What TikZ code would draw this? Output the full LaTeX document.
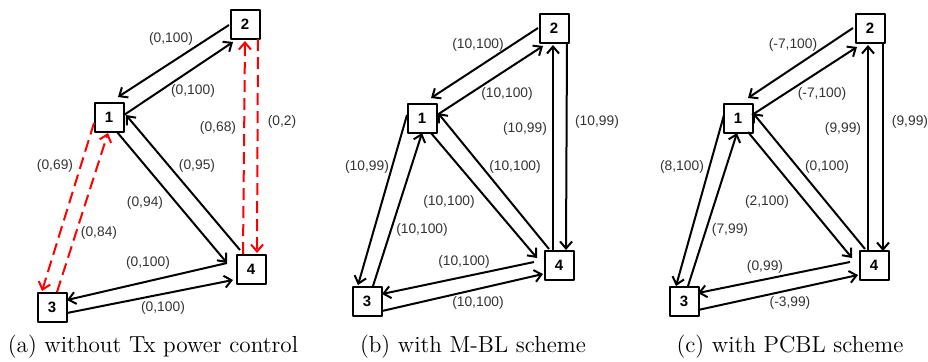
\documentclass[tikz,border=0pt]{standalone}
\usepackage{fontspec}
\setsansfont{Liberation Sans}
\usetikzlibrary{arrows.meta}
\tikzset{
  box/.style={draw, line width=1pt, fill=white, minimum size=14.5pt, inner sep=0pt,
    font=\sffamily\bfseries\fontsize{7.5}{8}\selectfont},
  arr/.style={-{Straight Barb[length=3.5pt,width=6pt]}, line width=1pt},
  redarr/.style={arr, red, dash pattern=on 6pt off 3pt},
  lab/.style={font=\sffamily\fontsize{6.9}{8}\selectfont, text=black!80, inner sep=0pt},
  subcap/.style={font=\fontsize{11.6}{14}\selectfont, inner sep=0pt}
}
\begin{document}
\begin{tikzpicture}[x=0.5pt, y=-0.5pt, line join=round]
\useasboundingbox (0,0) rectangle (928,361);

% (a) no power control
\node[box] (a1) at (109,117) {1};
\node[box] (a2) at (245,24) {2};
\node[box] (a3) at (52,307) {3};
\node[box] (a4) at (251,269) {4};
\draw[arr] ([shift={(-16,1)}]a2.center) -- ([shift={(9,-20)}]a1.center);
\draw[arr] ([shift={(15,-2)}]a1.center) -- ([shift={(-12,18)}]a2.center);
\draw[arr] ([shift={(8,15)}]a1.center) -- ([shift={(-24,-6)}]a4.center);
\draw[arr] ([shift={(-11,-19)}]a4.center) -- ([shift={(17,-2)}]a1.center);
\draw[arr] ([shift={(-24,-6)}]a4.center) -- ([shift={(15,-7)}]a3.center);
\draw[arr] ([shift={(15,6)}]a3.center) -- ([shift={(-18,11)}]a4.center);
\draw[redarr] ([shift={(-15,6)}]a1.center) -- ([shift={(-10,-16)}]a3.center);
\draw[redarr] ([shift={(5,-15)}]a3.center) -- ([shift={(-1,16)}]a1.center);
\draw[redarr] ([shift={(-8,-15)}]a4.center) -- ([shift={(0,17)}]a2.center);
\draw[redarr] ([shift={(13,15)}]a2.center) -- ([shift={(6,-16)}]a4.center);
\node[lab] (la21) at (171,39) {(0,100)};
\node[lab] (la12) at (193,91) {(0,100)};
\node[lab] (la42) at (218,128) {(0,68)};
\node[lab] (la24) at (282,122) {(0,2)};
\node[lab] (la13) at (55,166) {(0,69)};
\node[lab] (la41) at (197,166) {(0,95)};
\node[lab] (la14) at (145,203) {(0,94)};
\node[lab] (la31) at (99,233) {(0,84)};
\node[lab] (la43) at (148,263) {(0,100)};
\node[lab] (la34) at (163,308) {(0,100)};
\node[subcap] (capa) at (153,347) {(a) without Tx power control};

% (b) M-BL
\node[box] (b1) at (422,118) {1};
\node[box] (b2) at (554,28) {2};
\node[box] (b3) at (367,301) {3};
\node[box] (b4) at (559,265) {4};
\draw[arr] ([shift={(-16,0)}]b2.center) -- ([shift={(9,-20)}]b1.center);
\draw[arr] ([shift={(15,-3)}]b1.center) -- ([shift={(-11,18)}]b2.center);
\draw[arr] ([shift={(9,15)}]b1.center) -- ([shift={(-22,-7)}]b4.center);
\draw[arr] ([shift={(-10,-16)}]b4.center) -- ([shift={(16,-5)}]b1.center);
\draw[arr] ([shift={(-25,-3)}]b4.center) -- ([shift={(15,-7)}]b3.center);
\draw[arr] ([shift={(15,10)}]b3.center) -- ([shift={(-16,9)}]b4.center);
\draw[arr] ([shift={(-15,-3)}]b1.center) -- ([shift={(-9,-16)}]b3.center);
\draw[arr] ([shift={(6,-15)}]b3.center) -- ([shift={(0,15)}]b1.center);
\draw[arr] ([shift={(-6,-15)}]b4.center) -- ([shift={(-1,17)}]b2.center);
\draw[arr] ([shift={(13,15)}]b2.center) -- ([shift={(7,-15)}]b4.center);
\node[lab] (lb21) at (478,45) {(10,100)};
\node[lab] (lb12) at (507,94) {(10,100)};
\node[lab] (lb42) at (525,129) {(10,99)};
\node[lab] (lb24) at (597,122) {(10,99)};
\node[lab] (lb13) at (367,167) {(10,99)};
\node[lab] (lb41) at (515,167) {(10,100)};
\node[lab] (lb14) at (449,202) {(10,100)};
\node[lab] (lb31) at (422,230) {(10,100)};
\node[lab] (lb43) at (464,262) {(10,100)};
\node[lab] (lb34) at (478,303) {(10,100)};
\node[subcap] (capb) at (473,347) {(b) with M-BL scheme};

% (c) PCBL
\node[box] (c1) at (738,118) {1};
\node[box] (c2) at (870,28) {2};
\node[box] (c3) at (684,301) {3};
\node[box] (c4) at (874,265) {4};
\draw[arr] ([shift={(-17,0)}]c2.center) -- ([shift={(10,-20)}]c1.center);
\draw[arr] ([shift={(14,-3)}]c1.center) -- ([shift={(-13,19)}]c2.center);
\draw[arr] ([shift={(10,14)}]c1.center) -- ([shift={(-22,-7)}]c4.center);
\draw[arr] ([shift={(-9,-16)}]c4.center) -- ([shift={(15,-5)}]c1.center);
\draw[arr] ([shift={(-24,-3)}]c4.center) -- ([shift={(14,-8)}]c3.center);
\draw[arr] ([shift={(14,9)}]c3.center) -- ([shift={(-16,10)}]c4.center);
\draw[arr] ([shift={(-14,-3)}]c1.center) -- ([shift={(-8,-15)}]c3.center);
\draw[arr] ([shift={(4,-15)}]c3.center) -- ([shift={(-1,15)}]c1.center);
\draw[arr] ([shift={(-6,-15)}]c4.center) -- ([shift={(-2,17)}]c2.center);
\draw[arr] ([shift={(13,15)}]c2.center) -- ([shift={(9,-14)}]c4.center);
\node[lab] (lc21) at (793,45) {(-7,100)};
\node[lab] (lc12) at (822,94) {(-7,100)};
\node[lab] (lc42) at (843,129) {(9,99)};
\node[lab] (lc24) at (910,122) {(9,99)};
\node[lab] (lc13) at (682,167) {(8,100)};
\node[lab] (lc41) at (827,167) {(0,100)};
\node[lab] (lc14) at (767,202) {(2,100)};
\node[lab] (lc31) at (730,230) {(7,99)};
\node[lab] (lc43) at (765,267) {(0,99)};
\node[lab] (lc34) at (790,303) {(-3,99)};
\node[subcap] (capc) at (790,347) {(c) with PCBL scheme};
\end{tikzpicture}
\end{document}
